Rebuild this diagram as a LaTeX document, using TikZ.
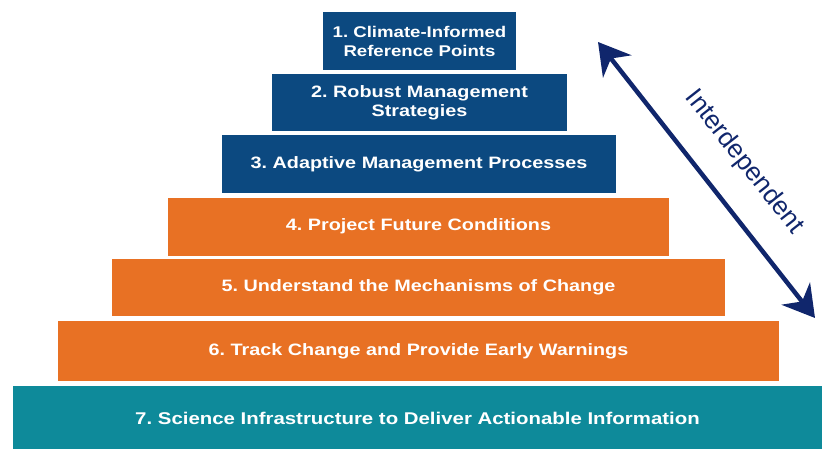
\documentclass[tikz,border=0pt]{standalone}
\usepackage{fontspec}
\setmainfont{Liberation Sans}
\newfontfamily\widesans[FakeStretch=1.2]{Liberation Sans}
\usetikzlibrary{arrows.meta}
\definecolor{pblue}{RGB}{12,73,128}
\definecolor{porange}{RGB}{232,113,36}
\definecolor{pteal}{RGB}{14,138,154}
\definecolor{pnavy}{RGB}{16,38,108}
\frenchspacing
\begin{document}
\begin{tikzpicture}[x=1pt,y=-1pt,
  tier/.style={rectangle, inner sep=0pt, text=white, align=center,
    font=\widesans\fontsize{16.5}{19}\selectfont\bfseries},
  bluetier/.style={tier, fill=pblue},
  orangetier/.style={tier, fill=porange},
  tealtier/.style={tier, fill=pteal, font=\widesans\fontsize{17}{20}\selectfont\bfseries},
  linkarrow/.style={pnavy, line width=4.5pt, {Stealth[length=31pt,width=36pt,inset=10pt]}-{Stealth[length=31pt,width=36pt,inset=10pt]}}
]
\useasboundingbox (0,0) rectangle (829,449);
\node[bluetier, minimum width=193pt, minimum height=58pt, font=\widesans\fontsize{15.5}{19}\selectfont\bfseries] (b1) at (419.5,41) {1. Climate-Informed\\Reference Points};
\node[bluetier, minimum width=295pt, minimum height=57pt] (b2) at (419.5,102.5) {2. Robust Management\\Strategies};
\node[bluetier, minimum width=394pt, minimum height=58pt] (b3) at (419,164) {3. Adaptive Management Processes};
\node[orangetier, minimum width=501pt, minimum height=58pt] (b4) at (418.5,226.5) {4. Project Future Conditions};
\node[orangetier, minimum width=613pt, minimum height=57pt] (b5) at (418.5,287.5) {5. Understand the Mechanisms of Change};
\node[orangetier, minimum width=721pt, minimum height=60pt] (b6) at (418.5,351) {6. Track Change and Provide Early Warnings};
\node[tealtier, minimum width=809pt, minimum height=64pt] (b7) at (417.5,418) {7. Science Infrastructure to Deliver Actionable Information};
\coordinate (atop) at (598,42);
\coordinate (abot) at (815,318);
\draw[linkarrow] (atop) -- (abot);
\node[text=pnavy, font=\fontsize{26}{30}\selectfont, rotate=-51.8, inner sep=0pt] (lbl) at (744,162) {Interdependent};
\end{tikzpicture}
\end{document}
